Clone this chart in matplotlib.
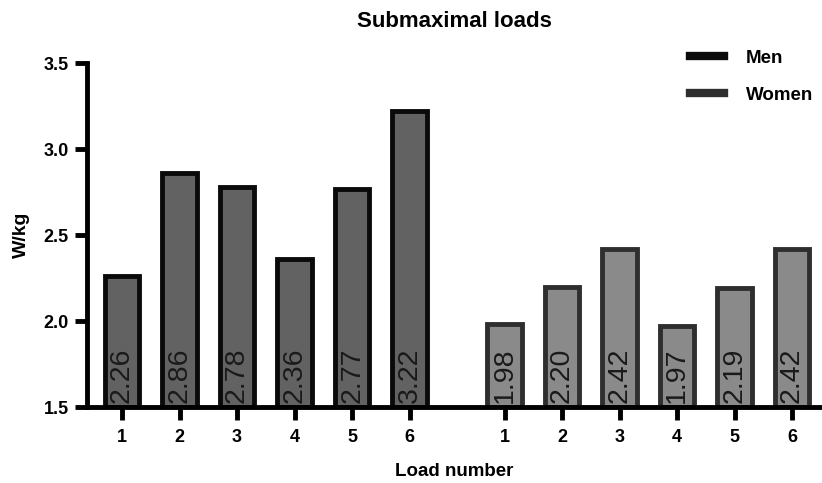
import matplotlib
matplotlib.use("Agg")
import matplotlib.pyplot as plt
from matplotlib.lines import Line2D

plt.rcParams['font.family'] = ['Liberation Sans', 'DejaVu Sans']

loads = ["1", "2", "3", "4", "5", "6"]
men = [2.26, 2.86, 2.78, 2.36, 2.77, 3.22]
women = [1.98, 2.20, 2.42, 1.97, 2.19, 2.42]
men_labels = ["2.26", "2.86", "2.78", "2.36", "2.77", "3.22"]
women_labels = ["1.98", "2.20", "2.42", "1.97", "2.19", "2.42"]

fig = plt.figure(figsize=(8.22, 4.83), dpi=100)
ax = fig.add_axes([87/822, 1-407/483, (822-87)/822, (407-63)/483])

gap = 6.65
xm = list(range(len(men)))
xw = [i + gap for i in range(len(women))]
base = 1.5
w = 0.6

ax.bar(xm, [v - base for v in men], bottom=base, width=w, color="#626262",
       edgecolor="#0a0a0a", linewidth=3.5, zorder=2)
ax.bar(xw, [v - base for v in women], bottom=base, width=w, color="#8a8a8a",
       edgecolor="#2e2e2e", linewidth=3.5, zorder=2)

for x, lab in zip(xm + xw, men_labels + women_labels):
    ax.text(x, base + 0.025, lab, rotation=90, ha="center", va="bottom",
            fontsize=20.5, color="#1a1a1a", zorder=3)

ax.set_ylim(1.5, 3.5)
ax.set_xlim(-0.61, 12.17)
ax.set_yticks([1.5, 2.0, 2.5, 3.0, 3.5])
ax.set_yticklabels(["1.5", "2.0", "2.5", "3.0", "3.5"])
ax.set_xticks(xm + xw)
ax.set_xticklabels(loads + loads)

for s in ["top", "right"]:
    ax.spines[s].set_visible(False)
for s in ["left", "bottom"]:
    ax.spines[s].set_linewidth(3.5)
    ax.spines[s].set_color("black")
    ax.spines[s].set_zorder(4)
ax.tick_params(axis="both", length=9, width=3.5, labelsize=13, color="black")
ax.tick_params(axis="x", pad=7)
ax.tick_params(axis="y", pad=4)
for lbl in ax.get_xticklabels() + ax.get_yticklabels():
    lbl.set_fontweight("bold")

ax.set_ylabel("W/kg", fontsize=14, fontweight="bold", labelpad=10)
ax.set_xlabel("Load number", fontsize=13.5, fontweight="bold", labelpad=12)
ax.set_title("Submaximal loads", fontsize=16, fontweight="bold", pad=26)

handles = [Line2D([0], [0], color="#0a0a0a", lw=6),
           Line2D([0], [0], color="#2e2e2e", lw=6)]
fig.legend(handles, ["Men", "Women"], loc="upper left",
           bbox_to_anchor=(673/822, 1-33/483), frameon=False,
           prop={"weight": "bold", "size": 13.5}, handlelength=1.8,
           labelspacing=1.05, handletextpad=1.2)

fig.savefig("out.png", dpi=100)
